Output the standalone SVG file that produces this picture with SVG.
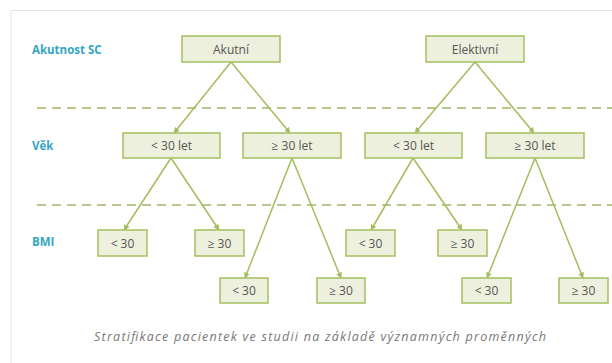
<svg xmlns="http://www.w3.org/2000/svg" width="612" height="363" viewBox="0 0 612 363">
<defs>
<style>
.box{fill:#eef0de;stroke:#a9c266;stroke-width:1.6}
.bt{font-family:"Open Sans","Liberation Sans",sans-serif;font-size:12px;fill:#555;text-anchor:middle}
.lbl{font-family:"Open Sans","Liberation Sans",sans-serif;font-size:11.5px;font-weight:bold;fill:#35a6c4}
.dash{stroke:#b7c98a;stroke-width:2;stroke-dasharray:9,6;fill:none}
.con{stroke:#a2bd5c;stroke-width:1.5;fill:none;marker-end:url(#ah)}
.cap{font-family:"Open Sans","Liberation Sans",sans-serif;font-size:12.5px;font-style:italic;fill:#777;text-anchor:middle}
</style>
<marker id="ah" viewBox="0 0 10 10" refX="9" refY="5" markerWidth="6" markerHeight="6" orient="auto" markerUnits="userSpaceOnUse">
<path d="M0,0 L10,5 L0,10 z" fill="#a2bd5c"/>
</marker>
</defs>
<rect x="0" y="0" width="612" height="363" fill="#ffffff"/>
<path d="M11,363 V10.5 H612" fill="none" stroke="#e2e2e2" stroke-width="1"/>
<g id="labels">
<text class="lbl" x="32" y="54">Akutnost SC</text>
<text class="lbl" x="32" y="150">Věk</text>
<text class="lbl" x="32" y="246">BMI</text>
</g>
<line class="dash" x1="37" y1="108" x2="612" y2="108"/>
<line class="dash" x1="37" y1="205" x2="612" y2="205"/>
<g id="connectors">
<line class="con" x1="231" y1="62" x2="174" y2="133"/>
<line class="con" x1="231" y1="62" x2="290" y2="133"/>
<line class="con" x1="475" y1="62" x2="415" y2="133"/>
<line class="con" x1="475" y1="62" x2="534" y2="133"/>
<line class="con" x1="171" y1="158" x2="124" y2="230"/>
<line class="con" x1="171" y1="158" x2="219" y2="230"/>
<line class="con" x1="292" y1="158" x2="245" y2="278"/>
<line class="con" x1="292" y1="158" x2="341" y2="278"/>
<line class="con" x1="413" y1="158" x2="371" y2="230"/>
<line class="con" x1="413" y1="158" x2="462" y2="230"/>
<line class="con" x1="535" y1="158" x2="487" y2="278"/>
<line class="con" x1="535" y1="158" x2="583" y2="278"/>
</g>
<g id="akutni"><rect class="box" x="182" y="36" width="98" height="26"/><text class="bt" x="231" y="53.5">Akutní</text></g>
<g id="elektivni"><rect class="box" x="426" y="36" width="98" height="26"/><text class="bt" x="475" y="53.5">Elektivní</text></g>
<g id="a-lt30let"><rect class="box" x="123" y="133" width="97" height="25"/><text class="bt" x="171.5" y="150">&lt; 30 let</text></g>
<g id="a-ge30let"><rect class="box" x="243" y="133" width="98" height="25"/><text class="bt" x="292" y="150">≥ 30 let</text></g>
<g id="e-lt30let"><rect class="box" x="365" y="133" width="97" height="25"/><text class="bt" x="413.5" y="150">&lt; 30 let</text></g>
<g id="e-ge30let"><rect class="box" x="486" y="133" width="98" height="25"/><text class="bt" x="535" y="150">≥ 30 let</text></g>
<g id="b1"><rect class="box" x="98" y="230" width="49" height="26"/><text class="bt" x="122.5" y="247.5">&lt; 30</text></g>
<g id="b2"><rect class="box" x="195" y="230" width="49" height="26"/><text class="bt" x="219.5" y="247.5">≥ 30</text></g>
<g id="b3"><rect class="box" x="220" y="278" width="48" height="25"/><text class="bt" x="244" y="295">&lt; 30</text></g>
<g id="b4"><rect class="box" x="317" y="278" width="48" height="25"/><text class="bt" x="341" y="295">≥ 30</text></g>
<g id="b5"><rect class="box" x="346" y="230" width="49" height="26"/><text class="bt" x="370.5" y="247.5">&lt; 30</text></g>
<g id="b6"><rect class="box" x="438" y="230" width="49" height="26"/><text class="bt" x="462.5" y="247.5">≥ 30</text></g>
<g id="b7"><rect class="box" x="462" y="278" width="49" height="25"/><text class="bt" x="486.5" y="295">&lt; 30</text></g>
<g id="b8"><rect class="box" x="559" y="278" width="49" height="25"/><text class="bt" x="583.5" y="295">≥ 30</text></g>
<text class="cap" x="320" y="341" textLength="452" lengthAdjust="spacing">Stratifikace pacientek ve studii na základě významných proměnných</text>
</svg>
